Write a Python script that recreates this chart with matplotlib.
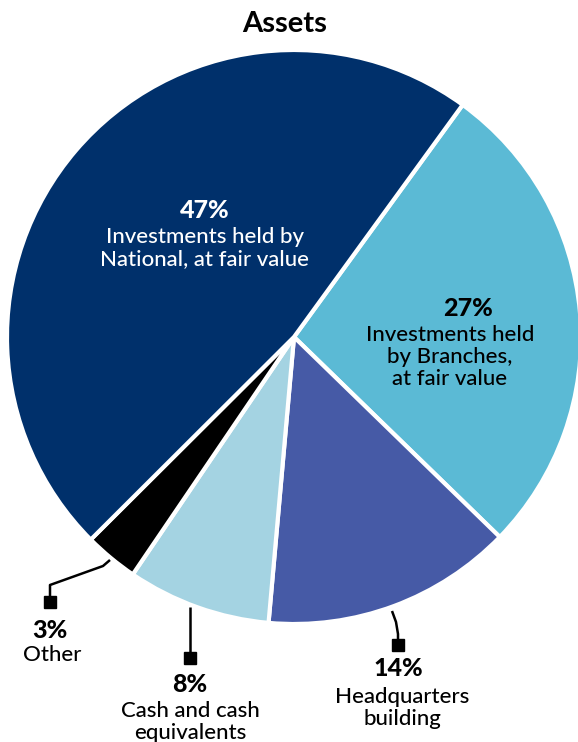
import matplotlib
matplotlib.use("Agg")
import matplotlib.pyplot as plt

plt.rcParams['font.family'] = ['Lato', 'DejaVu Sans']

# data, clockwise from the upper right
labels = ["Investments held by\nBranches, at fair value", "Headquarters\nbuilding",
          "Cash and cash\nequivalents", "Other", "Investments held by\nNational, at fair value"]
shares = [27, 14, 8, 3, 47]
colors = ["#5BBAD5", "#465AA6", "#A4D3E2", "#000000", "#00306B"]

W, H = 578, 742
fig = plt.figure(figsize=(W / 100, H / 100), dpi=100)
ax = fig.add_axes([0, 0, 1, 1])

def y(py):
    # pixel row from top -> axes y
    return H - py

cx, cy, r = 294, y(337), 287
ax.pie(shares, colors=colors, startangle=54, counterclock=False,
       center=(cx, cy), radius=r, frame=True,
       wedgeprops=dict(edgecolor="white", linewidth=3))
ax.set_xlim(0, W)
ax.set_ylim(0, H)
ax.set_aspect("equal")
ax.axis("off")

ax.text(285, y(24), "Assets", ha="center", va="center", fontsize=21, fontweight="bold")

pct = dict(ha="center", va="center", fontsize=18, fontweight="black")
lab = dict(ha="center", va="center", fontsize=16, fontweight="medium", linespacing=1.1)

# labels inside the big wedges
ax.text(205, y(210), "47%", color="white", **pct)
ax.text(205, y(248), "Investments held by\nNational, at fair value", color="white", **lab)

ax.text(468, y(308), "27%", color="black", **pct)
ax.text(450, y(357), "Investments held\nby Branches,\nat fair value", color="black", **lab)

# leader lines for small wedges
leaders = [
    ([110, 103, 50, 50], [560, 566, 585, 602]),
    ([190, 190], [607, 658]),
    ([392, 396, 398, 398], [611, 622, 634, 645]),
]
for xs, ys in leaders:
    ax.plot(xs, [y(v) for v in ys], color="black", lw=1.8, solid_capstyle="butt")
    ax.plot(xs[-1], y(ys[-1]), marker="s", markersize=8, color="black")

ax.text(50, y(630), "3%", **pct)
ax.text(52, y(655), "Other", **lab)

ax.text(190, y(684), "8%", **pct)
ax.text(190, y(722), "Cash and cash\nequivalents", **lab)

ax.text(398, y(669), "14%", **pct)
ax.text(402, y(708), "Headquarters\nbuilding", **lab)

fig.savefig("out.png", dpi=100)
